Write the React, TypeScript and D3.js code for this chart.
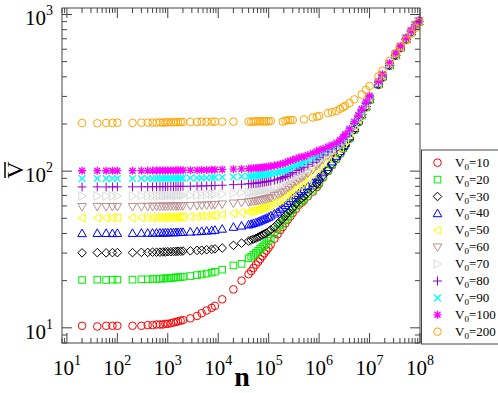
// App.tsx  > log-log plot of mean V against n, one curve per V0

// react
import React from 'react';

// modules
import * as d3 from 'd3';

// data (null = no point at that n)
const nValues = [
    20, 40, 60, 80, 100,
    200, 300, 400, 500, 600, 700, 800, 900, 1000, 1150, 1300, 1450, 1600, 1800, 2000,
    2800, 3800, 4700, 5900, 7400, 8600,
    12000, 20000, 29000,
    40000, 45000, 50000, 56000, 62000, 68000, 75000, 82000, 90000, 100000,
    110000, 130000, 150000, 170000, 190000, 215000, 240000, 270000, 300000, 350000,
    400000, 450000, 500000, 600000, 750000, 900000,
    1.0e6, 1.2e6, 1.5e6, 1.8e6, 2.2e6, 2.6e6, 3.0e6, 3.3e6, 4.0e6, 5.0e6, 6.0e6, 7.0e6, 8.5e6,
    1.0e7, 1.5e7, 1.8e7, 2.5e7, 3.3e7, 4.1e7, 5.3e7, 6.7e7, 8.2e7, 9.5e7,
];

const v10 = [
    10.3, 10.2, 10.3, 10.3, 10.3,
    10.3, 10.3, 10.4, 10.4, 10.5, 10.5, 10.5, 10.6, 10.6, 10.7, 10.8, 10.9, 11.0, 11.1, 11.2,
    11.5, 11.9, 12.4, 12.9, 13.4, 13.8,
    15.2, 17.6, 20.0,
    22.0, 23.0, 24.1, 25.3, 26.4, 27.5, 28.7, 29.9, 31.1, 32.5,
    34.0, 37.0, 39.5, 42.0, 44.0, 46.5, 49.0, 51.5, 54.0, 57.5,
    61.0, 63.0, 65.0, 69.0, 74.0, 79.0,
    83, 91, 100, 109, 119, 129, 139, 146, 161, 183, 205, 226, 255,
    283, 355, 395, 470, 545, 610, 690, 770, 845, 895,
];
const v20 = [
    20.2, 20.3, 20.2, 20.3, 20.3,
    20.3, 20.4, 20.4, 20.5, 20.5, 20.6, 20.6, 20.7, 20.7, 20.8, 20.9, 21.0, 21.0, 21.1, 21.2,
    21.4, 21.7, 21.9, 22.2, 22.5, 22.8,
    23.5, 25.0, 25.6,
    27.8, 28.5, 29.3, 30.1, 31.0, 31.9, 32.8, 33.7, 34.6, 36.0,
    37.3, 40.2, 42.6, 45.0, 46.5, 49.0, 51.5, 54.0, 56.5, 60.0,
    63.0, 65.0, 67.0, 71.0, 76.0, 81.0,
    85, 92.5, 101, 110, 120, 130, 140, 147, 162, 184, 206, 227, 256,
    285, 357, 397, 472, 547, 612, 692, 772, 847, 897,
];
const v30 = [
    30.1, 30.2, 30.1, 30.2, 30.2,
    30.2, 30.3, 30.3, 30.4, 30.4, 30.4, 30.5, 30.5, 30.6, 30.6, 30.7, 30.7, 30.8, 30.8, 30.9,
    31.0, 31.2, 31.3, 31.5, 31.7, 31.9,
    32.3, 33.6, 34.7,
    35.8, 36.3, 36.8, 37.3, 37.9, 38.5, 39.1, 39.7, 40.3, 41.2,
    42.2, 44.0, 46.0, 48.0, 49.5, 52.0, 54.0, 56.0, 58.5, 62.0,
    65.0, 67.0, 69.0, 73.0, 78.0, 83.0,
    87, 94, 102, 111, 122, 131, 141, 148, 163, 185, 207, 229, 258,
    287, 359, 399, 474, 549, 614, 694, 774, 849, 899,
];
const v40 = [
    40.1, 40.2, 40.2, 40.1, 40.2,
    40.2, 40.3, 40.3, 40.3, 40.4, 40.4, 40.4, 40.5, 40.5, 40.6, 40.6, 40.7, 40.7, 40.8, 40.8,
    41.0, 41.2, 41.4, 41.6, 41.8, 42.1,
    42.8, 44.0, 44.8,
    45.5, 46.0, 46.5, 47.0, 47.6, 48.2, 48.9, 49.5, 50.2, 51.0,
    52.0, 53.5, 55.0, 57.0, 58.5, 60.5, 62.5, 64.5, 67.0, 70.0,
    72.5, 74.5, 76.5, 80.0, 84.0, 88.5,
    92, 98, 106, 115, 125, 134, 144, 151, 166, 188, 210, 231, 260,
    289, 361, 401, 476, 551, 616, 696, 776, 851, 901,
];
const v50 = [
    50.3, 50.4, 50.3, 50.4, 50.4,
    50.4, 50.5, 50.5, 50.5, 50.6, 50.6, 50.6, 50.7, 50.7, 50.8, 50.8, 50.9, 50.9, 51.0, 51.0,
    51.2, 51.4, 51.6, 51.8, 52.0, 52.2,
    52.8, 53.8, 54.3,
    55.0, 55.5, 56.0, 56.5, 57.0, 57.6, 58.2, 58.8, 59.4, 60.2,
    61.0, 62.5, 64.0, 65.5, 67.0, 69.0, 71.0, 72.5, 74.5, 78.0,
    81.0, 83.0, 85.5, 90.0, 96.0, 103,
    108, 114, 122, 128, 134, 141, 150, 157, 171, 192, 213, 234, 263,
    292, 364, 404, 479, 554, 619, 699, 779, 854, 904,
];
const v60 = [
    59.2, 59.3, 59.2, 59.3, 59.3,
    59.3, 59.4, 59.4, 59.5, 59.5, 59.5, 59.6, 59.6, 59.7, 59.7, 59.8, 59.8, 59.9, 59.9, 60.0,
    60.1, 60.3, 60.5, 60.7, 60.9, 61.1,
    61.5, 62.3, 62.9,
    63.5, 63.8, 64.1, 64.5, 64.9, 65.3, 65.7, 66.1, 66.6, 67.2,
    67.9, 69.5, 71.0, 72.5, 74.0, 76.0, 78.5, 80.5, 83.0, 86.0,
    89.0, 91.0, 93.0, 97.0, 102, 108,
    112, 119, 126, 132, 138, 145, 153, 160, 174, 195, 216, 237, 266,
    294, 366, 406, 481, 556, 621, 701, 781, 856, 906,
];
const v70 = [
    69.4, 69.5, 69.4, 69.5, 69.5,
    69.5, 69.6, 69.6, 69.6, 69.7, 69.7, 69.7, 69.8, 69.8, 69.9, 69.9, 70.0, 70.0, 70.1, 70.1,
    70.2, 70.4, 70.5, 70.7, 70.9, 71.1,
    71.5, 72.2, 72.7,
    73.2, 73.5, 73.8, 74.1, 74.5, 74.9, 75.3, 75.7, 76.2, 76.8,
    77.4, 78.5, 79.5, 81.0, 82.0, 84.0, 86.0, 88.0, 90.0, 93.0,
    95.5, 97.0, 99.0, 103, 108, 113,
    117, 123, 129, 135, 141, 148, 156, 163, 177, 198, 219, 240, 268,
    296, 368, 408, 483, 558, 623, 703, 783, 858, 908,
];
const v80 = [
    79.3, 79.4, 79.3, 79.4, 79.4,
    79.4, 79.5, 79.5, 79.5, 79.6, 79.6, 79.6, 79.7, 79.7, 79.8, 79.8, 79.9, 79.9, 80.0, 80.0,
    80.1, 80.3, 80.4, 80.6, 80.8, 81.0,
    81.3, 82.0, 82.5,
    83.0, 83.2, 83.5, 83.8, 84.1, 84.5, 84.9, 85.3, 85.7, 86.2,
    86.8, 87.8, 88.8, 90.0, 91.0, 92.5, 94.5, 96.0, 98.0, 101,
    103, 105, 106, 110, 114, 119,
    122, 127, 133, 139, 144, 151, 159, 166, 180, 201, 222, 243, 271,
    298, 370, 410, 485, 560, 625, 705, 785, 860, 910,
];
const v90 = [
    89.6, 89.7, 89.6, 89.7, 89.7,
    89.7, 89.8, 89.8, 89.8, 89.9, 89.9, 89.9, 90.0, 90.0, 90.1, 90.1, 90.2, 90.2, 90.3, 90.3,
    90.4, 90.5, 90.6, 90.8, 91.0, 91.2,
    91.5, 92.0, 92.4,
    92.8, 93.0, 93.3, 93.6, 93.9, 94.2, 94.6, 95.0, 95.4, 95.9,
    96.5, 97.3, 98.2, 99.2, 100.5, 101.5, 103.5, 105, 107, 109,
    111, 112.5, 114, 117, 121, 125,
    129, 133, 138, 143, 148, 155, 162, 169, 183, 204, 225, 246, 273,
    300, 372, 412, 487, 562, 627, 707, 787, 862, 912,
];
const v100 = [
    100.6, 100.7, 100.6, 100.7, 100.7,
    100.7, 100.8, 100.8, 100.8, 100.9, 100.9, 100.9, 101.0, 101.0, 101.1, 101.1, 101.2, 101.2, 101.3, 101.3,
    101.4, 101.5, 101.6, 101.8, 102.0, 102.2,
    102.5, 103.0, 103.4,
    103.8, 104.0, 104.3, 104.6, 104.9, 105.2, 105.6, 106.0, 106.4, 106.9,
    107.5, 108.5, 109.5, 110.5, 111.5, 113, 115, 116.5, 118, 120,
    122, 123, 124, 127, 130, 133.5,
    136, 139, 143, 147, 152, 158, 165, 172, 186, 207, 228, 249, 276,
    303, 375, 415, 490, 565, 630, 710, 790, 865, 915,
];
const v200 = [
    203, 202, 203, 203, 204,
    203, 204, 204, 204, 204, 205, 204, 205, 205, 205, 205, 206, 205, 206, 206,
    206, 206, 207, 207, 207, 207,
    207, 207, null,
    207, 207, 207, 208, 208, 208, 208, 208, 208, 208,
    209, null, null, null, 207, 210, 211, 212, 212, null,
    null, null, 214, null, 220, 223,
    225, null, 235, 238, 242, 250, 256, 261, 272, 287, null, 308, 330,
    350, 402, 437, 505, 568, 626, 684, 755, 822, 893,
];

const legendLabels = ['10', '20', '30', '40', '50', '60', '70', '80', '90', '100', '200'];
const seriesColors = ['#ff0000', '#00ee00', '#000000', '#0000ff', '#ffff00', '#bc8f8f', '#dcdcdc', '#9400d3', '#00ffff', '#ff00ff', '#ffa500'];
const seriesShapes = ['circle', 'square', 'diamond', 'up', 'left', 'down', 'right', 'plus', 'cross', 'star', 'circle'];
const seriesValues: (number | null)[][] = [v10, v20, v30, v40, v50, v60, v70, v80, v90, v100, v200];

const xTickExps = [1, 2, 3, 4, 5, 6, 7, 8];
const yTickExps = [1, 2, 3];

// layout
const W = 498, H = 393;
const left = 62, right = 420, top = 8, bottom = 343;
const font = '"Liberation Serif", "Times New Roman", serif';

const xScale = d3.scaleLog().domain([8, 1e8]).range([left, right]);
const yScale = d3.scaleLog().domain([8, 1100]).range([bottom, top]);

// marker
function Marker({shape, x, y, color}: {shape: string, x: number, y: number, color: string}) {
    const s = 3.8;
    const common = {fill: 'none', stroke: color, strokeWidth: 1};
    switch (shape) {
        case 'circle':
            return <circle cx={x} cy={y} r={s} {...common} />;
        case 'square':
            return <rect x={x - 3.3} y={y - 3.3} width={6.6} height={6.6} {...common} />;
        case 'diamond':
            return <path d={`M${x},${y - 4.3}L${x + 4.3},${y}L${x},${y + 4.3}L${x - 4.3},${y}Z`} {...common} />;
        case 'up':
            return <path d={`M${x},${y - 4.3}L${x + 4.3},${y + 3.3}L${x - 4.3},${y + 3.3}Z`} {...common} />;
        case 'down':
            return <path d={`M${x},${y + 4.3}L${x + 4.3},${y - 3.3}L${x - 4.3},${y - 3.3}Z`} {...common} />;
        case 'left':
            return <path d={`M${x - 4.3},${y}L${x + 3.3},${y - 4.3}L${x + 3.3},${y + 4.3}Z`} {...common} />;
        case 'right':
            return <path d={`M${x + 4.3},${y}L${x - 3.3},${y - 4.3}L${x - 3.3},${y + 4.3}Z`} {...common} />;
        case 'plus':
            return <path d={`M${x - 4.5},${y}H${x + 4.5}M${x},${y - 4.5}V${y + 4.5}`} {...common} />;
        case 'cross':
            return <path d={`M${x - 3.3},${y - 3.3}L${x + 3.3},${y + 3.3}M${x - 3.3},${y + 3.3}L${x + 3.3},${y - 3.3}`} {...common} strokeWidth={1.4} />;
        case 'star':
            return <path d={`M${x - 4},${y}H${x + 4}M${x},${y - 4}V${y + 4}M${x - 3},${y - 3}L${x + 3},${y + 3}M${x - 3},${y + 3}L${x + 3},${y - 3}`} {...common} strokeWidth={1.3} />;
        default:
            return null;
    }
}

// ticks
const majorLen = 10, minorLen = 5;
const xMinor: number[] = [];
for (let e = 0; e < 8; e++) for (let m = 2; m <= 9; m++) {
    const v = m * Math.pow(10, e);
    if (v >= 8 && v <= 1e8) xMinor.push(v);
}
const yMinor: number[] = [];
for (let e = 0; e < 4; e++) for (let m = 2; m <= 9; m++) {
    const v = m * Math.pow(10, e);
    if (v >= 8 && v <= 1100) yMinor.push(v);
}

export default function App() {
    const axisColor = '#444';
    const legendX = 437.5, legendY0 = 162.7, legendStep = 16.9;
    return (
        <svg width={W} height={H} style={{position: 'absolute', left: 0, top: 0, background: '#fff'}}
             fontFamily={font}>
            {/* markers */}
            {seriesValues.map((vals, si) => (
                <g key={si}>
                    {vals.map((v, i) => v == null ? null : (
                        <Marker key={i} shape={seriesShapes[si]} color={seriesColors[si]}
                                x={xScale(nValues[i])} y={yScale(v)} />
                    ))}
                </g>
            ))}

            {/* frame */}
            <rect x={left} y={top} width={right - left} height={bottom - top} fill="none" stroke={axisColor} strokeWidth={1} />

            {/* x ticks */}
            {xTickExps.map((e) => {
                const x = xScale(Math.pow(10, e));
                return (
                    <g key={'xt' + e}>
                        <line x1={x} x2={x} y1={bottom} y2={bottom - majorLen} stroke={axisColor} />
                        <line x1={x} x2={x} y1={top} y2={top + majorLen} stroke={axisColor} />
                        <text x={x} y={375} textAnchor="middle" fontSize={21}>
                            10<tspan dy={-10} fontSize={14}>{e}</tspan>
                        </text>
                    </g>
                );
            })}
            {xMinor.map((v) => {
                const x = xScale(v);
                return (
                    <g key={'xm' + v}>
                        <line x1={x} x2={x} y1={bottom} y2={bottom - minorLen} stroke={axisColor} />
                        <line x1={x} x2={x} y1={top} y2={top + minorLen} stroke={axisColor} />
                    </g>
                );
            })}

            {/* y ticks */}
            {yTickExps.map((e) => {
                const y = yScale(Math.pow(10, e));
                return (
                    <g key={'yt' + e}>
                        <line x1={left} x2={left + majorLen} y1={y} y2={y} stroke={axisColor} />
                        <line x1={right} x2={right - majorLen} y1={y} y2={y} stroke={axisColor} />
                        <text x={53} y={y + 11} textAnchor="end" fontSize={21}>
                            10<tspan dy={-10} fontSize={14}>{e}</tspan>
                        </text>
                    </g>
                );
            })}
            {yMinor.map((v) => {
                const y = yScale(v);
                return (
                    <g key={'ym' + v}>
                        <line x1={left} x2={left + minorLen} y1={y} y2={y} stroke={axisColor} />
                        <line x1={right} x2={right - minorLen} y1={y} y2={y} stroke={axisColor} />
                    </g>
                );
            })}

            {/* axis titles */}
            <text x={242} y={386} textAnchor="middle" fontSize={28} fontWeight="bold">n</text>
            <text transform="translate(23,170) rotate(-90)" textAnchor="middle" fontSize={24}>V</text>
            <line x1={5} x2={5} y1={162} y2={178} stroke="#000" strokeWidth={1.5} />

            {/* legend */}
            <rect x={421.5} y={150} width={90} height={194} fill="#fff" stroke={axisColor} strokeWidth={1} />
            {legendLabels.map((lab, i) => {
                const y = legendY0 + i * legendStep;
                return (
                    <g key={'lg' + i}>
                        <Marker shape={seriesShapes[i]} color={seriesColors[i]} x={legendX} y={y} />
                        <text x={455} y={y + 4} fontSize={13}>
                            V<tspan dy={3} fontSize={9}>0</tspan><tspan dy={-3}>={lab}</tspan>
                        </text>
                    </g>
                );
            })}
        </svg>
    );
}
